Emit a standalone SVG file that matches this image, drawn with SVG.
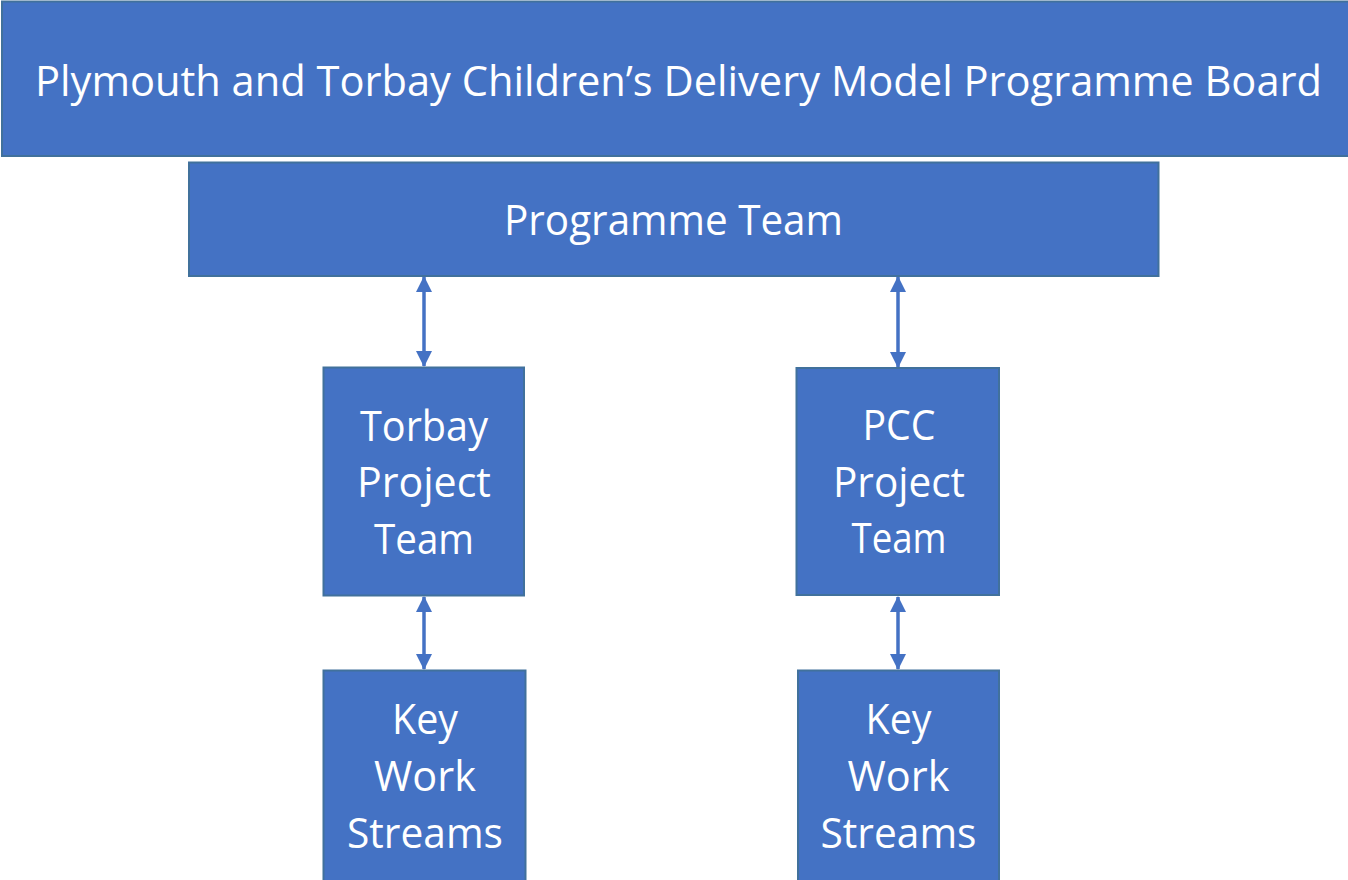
<svg xmlns="http://www.w3.org/2000/svg" width="1348" height="880" viewBox="0 0 1348 880">
<style>
.box{fill:#4472C4;stroke:#41719C;stroke-width:2}
.t{font-family:"Open Sans","Liberation Sans",sans-serif;font-size:42px;fill:#FFFFFF;text-anchor:middle}
.c{stroke:#4472C4;stroke-width:3.5;fill:none;marker-start:url(#ah);marker-end:url(#ah)}
</style>
<defs>
<marker id="ah" viewBox="0 0 16 16" refX="15" refY="8" markerWidth="16" markerHeight="17" markerUnits="userSpaceOnUse" orient="auto-start-reverse">
<path d="M0,0 L16,8 L0,16 Z" fill="#4472C4"/>
</marker>
</defs>
<rect width="1348" height="880" fill="#FFFFFF"/>
<g id="connectors">
<line class="c" x1="424" y1="277" x2="424" y2="366"/>
<line class="c" x1="898" y1="277" x2="898" y2="367"/>
<line class="c" x1="424" y1="597" x2="424" y2="669"/>
<line class="c" x1="898" y1="597" x2="898" y2="669"/>
</g>
<g id="board">
<rect class="box" x="2" y="1.5" width="1360" height="154.5"/>
<text class="t" x="678.5" y="96" textLength="1287" lengthAdjust="spacingAndGlyphs">Plymouth and Torbay Children’s Delivery Model Programme Board</text>
</g>
<g id="programme-team">
<rect class="box" x="189" y="162.5" width="969.5" height="113.5"/>
<text class="t" x="673.5" y="235" textLength="339" lengthAdjust="spacingAndGlyphs">Programme Team</text>
</g>
<g id="torbay-project-team">
<rect class="box" x="323.5" y="367.5" width="200.5" height="228"/>
<text class="t" x="424" y="441" textLength="128" lengthAdjust="spacingAndGlyphs">Torbay</text>
<text class="t" x="424" y="497" textLength="134" lengthAdjust="spacingAndGlyphs">Project</text>
<text class="t" x="424" y="554" textLength="100" lengthAdjust="spacingAndGlyphs">Team</text>
</g>
<g id="pcc-project-team">
<rect class="box" x="796.5" y="368" width="202.5" height="227"/>
<text class="t" x="899" y="440" textLength="73" lengthAdjust="spacingAndGlyphs">PCC</text>
<text class="t" x="899" y="497" textLength="132" lengthAdjust="spacingAndGlyphs">Project</text>
<text class="t" x="899" y="553" textLength="95" lengthAdjust="spacingAndGlyphs">Team</text>
</g>
<g id="torbay-key-work-streams">
<rect class="box" x="323.5" y="670.5" width="202" height="220"/>
<text class="t" x="425" y="734" textLength="66" lengthAdjust="spacingAndGlyphs">Key</text>
<text class="t" x="425" y="791" textLength="102" lengthAdjust="spacingAndGlyphs">Work</text>
<text class="t" x="425" y="848" textLength="156" lengthAdjust="spacingAndGlyphs">Streams</text>
</g>
<g id="pcc-key-work-streams">
<rect class="box" x="798" y="670.5" width="201" height="220"/>
<text class="t" x="898.5" y="734" textLength="66" lengthAdjust="spacingAndGlyphs">Key</text>
<text class="t" x="898.5" y="791" textLength="102" lengthAdjust="spacingAndGlyphs">Work</text>
<text class="t" x="898.5" y="848" textLength="156" lengthAdjust="spacingAndGlyphs">Streams</text>
</g>
</svg>
